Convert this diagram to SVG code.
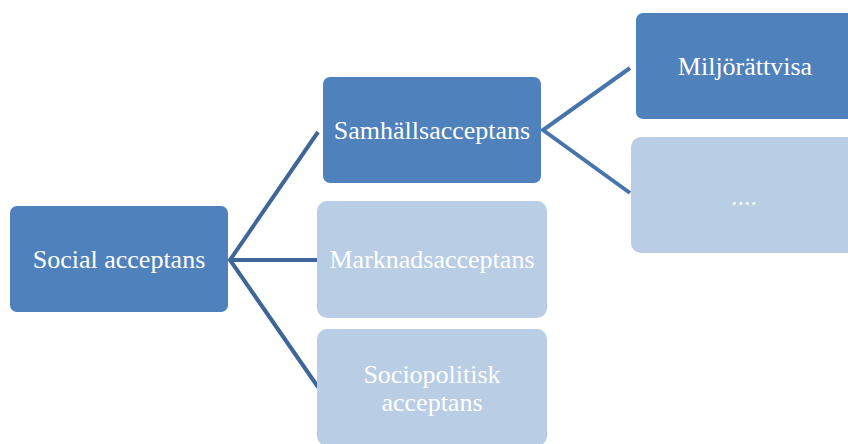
<svg xmlns="http://www.w3.org/2000/svg" width="848" height="444" viewBox="0 0 848 444">
<style>
.dark{fill:#4F81BD;}
.light{fill:#B9CDE5;}
.t{font-family:"Liberation Serif","Times New Roman",serif;font-size:26px;fill:#FFFFFF;text-anchor:middle;}
.c1{stroke:#3F6698;stroke-width:4;fill:none;stroke-linecap:butt;}
.c2{stroke:#4774AB;stroke-width:4;fill:none;stroke-linecap:butt;}
</style>
<rect width="848" height="444" fill="#FFFFFF"/>
<g id="connectors">
<polyline class="c1" points="318,132 230,260 318,387"/>
<line class="c1" x1="230" y1="260" x2="318" y2="260"/>
<polyline class="c2" points="630,68 543,130 630,193"/>
</g>
<g id="social">
<rect class="dark" x="10" y="206" width="218" height="106" rx="7"/>
<text class="t" x="119" y="268">Social acceptans</text>
</g>
<g id="samhalls">
<rect class="dark" x="323" y="77" width="218" height="106" rx="7"/>
<text class="t" x="432" y="139">Samhällsacceptans</text>
</g>
<g id="miljo">
<rect class="dark" x="636" y="13" width="218" height="106" rx="7"/>
<text class="t" x="745" y="75">Miljörättvisa</text>
</g>
<g id="dots">
<rect class="light" x="631" y="137" width="226" height="116" rx="10"/>
<text class="t" x="744" y="205">....</text>
</g>
<g id="marknads">
<rect class="light" x="317" y="201" width="230" height="117" rx="10"/>
<text class="t" x="432" y="268">Marknadsacceptans</text>
</g>
<g id="sociopolitisk">
<rect class="light" x="317" y="329" width="230" height="117" rx="10"/>
<text class="t" x="432" y="383">Sociopolitisk</text>
<text class="t" x="432" y="411">acceptans</text>
</g>
</svg>
